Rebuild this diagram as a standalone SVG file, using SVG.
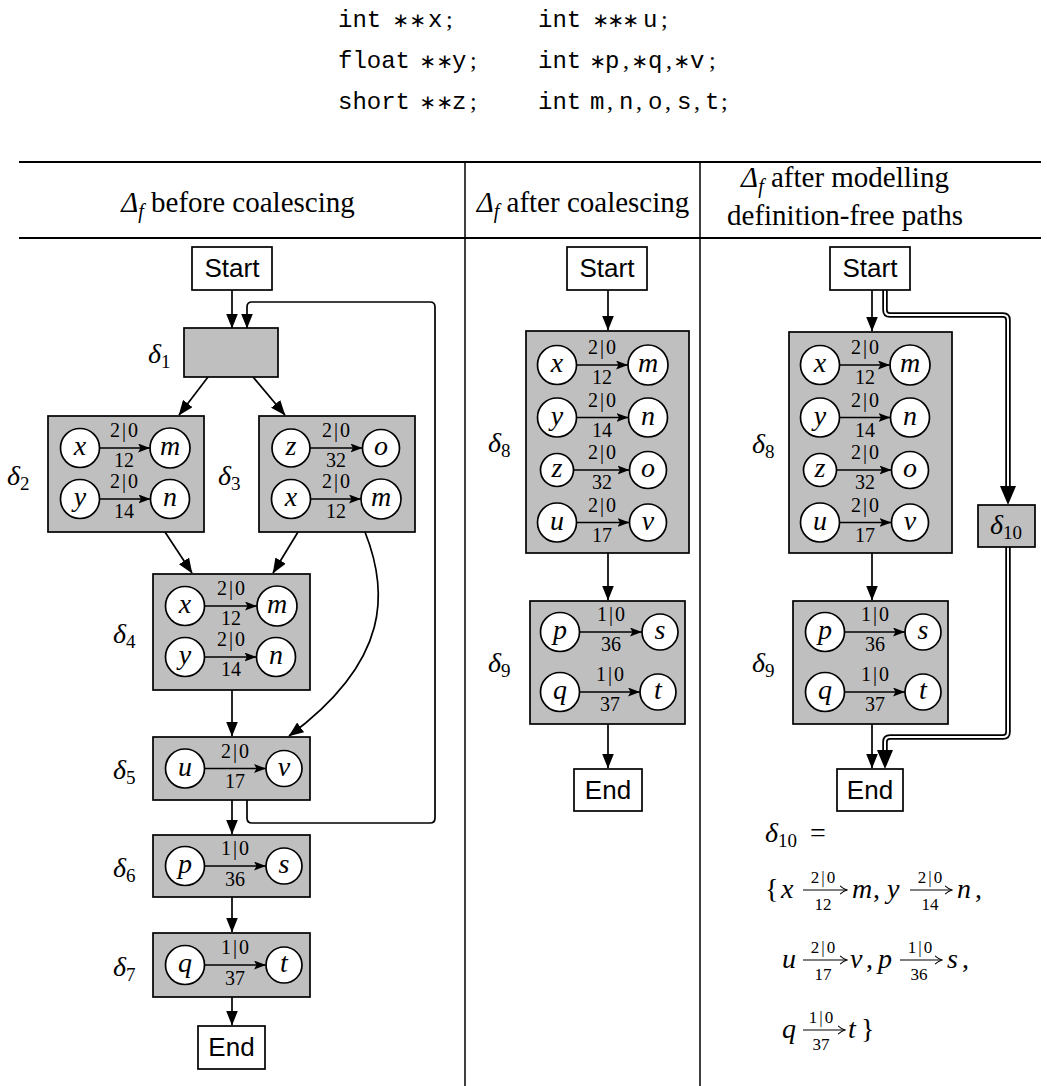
<svg xmlns="http://www.w3.org/2000/svg" width="1047" height="1086" viewBox="0 0 1047 1086">
<defs>
<style>
.box{fill:#bfbfbf;stroke:#000;stroke-width:1.7}
.wb{fill:#fff;stroke:#000;stroke-width:1.7}
.c{fill:#fff;stroke:#000;stroke-width:1.7}
.e{fill:none;stroke:#000;stroke-width:1.7;marker-end:url(#ah)}
.ie{fill:none;stroke:#000;stroke-width:1.5;marker-end:url(#ih)}
.me{fill:none;stroke:#000;stroke-width:1.1;marker-end:url(#mh)}
.dbo{fill:none;stroke:#000;stroke-width:5.5;stroke-linejoin:round}
.dbi{fill:none;stroke:#fff;stroke-width:2;stroke-linejoin:round}
.rule{stroke:#000;stroke-width:2.2}
.vr{stroke:#000;stroke-width:1.5}
.v{font-family:"Liberation Serif",serif;font-style:italic;font-size:28px;text-anchor:middle}
.l{font-family:"Liberation Serif",serif;font-size:20px;text-anchor:middle}
.bar{letter-spacing:2px}
.sl{font-family:"Liberation Serif",serif;font-size:17px;text-anchor:middle}
.sf{font-family:"Liberation Sans",sans-serif;font-size:26px;text-anchor:middle}
.h{font-family:"Liberation Serif",serif;font-size:29px;text-anchor:middle}
.d{font-family:"Liberation Serif",serif;font-size:28px}
.dm{font-family:"Liberation Serif",serif;font-size:28px;text-anchor:middle}
.it{font-style:italic}
.code{font-family:"Liberation Mono",monospace;font-size:24px}
.cs{font-family:"Liberation Serif",serif;font-size:24px}
.ast{font-family:"DejaVu Sans",sans-serif;font-size:20px}
.mi{font-family:"Liberation Serif",serif;font-size:28px;font-style:italic}
.mr{font-family:"Liberation Serif",serif;font-size:28px}
</style>
<marker id="ah" markerUnits="userSpaceOnUse" viewBox="0 0 15 12" markerWidth="15" markerHeight="12" refX="14.5" refY="6" orient="auto"><path d="M0,0 L15,6 L0,12 z"/></marker>
<marker id="ih" markerUnits="userSpaceOnUse" viewBox="0 0 12 9" markerWidth="12" markerHeight="9" refX="12" refY="4.5" orient="auto"><path d="M0,0 L12,4.5 L0,9 L2.5,4.5 z"/></marker>
<marker id="mh" markerUnits="userSpaceOnUse" viewBox="0 0 8 10" markerWidth="8" markerHeight="10" refX="7.5" refY="5" orient="auto"><path d="M0.5,0.8 Q4,4 7.5,5 Q4,6 0.5,9.2" fill="none" stroke="#000" stroke-width="1.1"/></marker>
</defs>

<g id="code">
<text class="code" y="27"><tspan x="338">int</tspan><tspan class="ast" x="392.6 409.6">∗∗</tspan><tspan x="428">x</tspan><tspan class="cs" x="446">;</tspan><tspan x="538">int</tspan><tspan class="ast" x="592.6 607.6 622.6">∗∗∗</tspan><tspan x="643">u</tspan><tspan class="cs" x="661">;</tspan></text>
<text class="code" y="68"><tspan x="338">float</tspan><tspan class="ast" x="419.6 436.6">∗∗</tspan><tspan x="452">y</tspan><tspan class="cs" x="470">;</tspan><tspan x="538">int</tspan><tspan class="ast" x="589.6">∗</tspan><tspan x="605">p</tspan><tspan class="cs" x="623">,</tspan><tspan class="ast" x="631.6">∗</tspan><tspan x="648">q</tspan><tspan class="cs" x="666">,</tspan><tspan class="ast" x="673.6">∗</tspan><tspan x="690">v</tspan><tspan class="cs" x="709">;</tspan></text>
<text class="code" y="109"><tspan x="338">short</tspan><tspan class="ast" x="419.6 436.6">∗∗</tspan><tspan x="452">z</tspan><tspan class="cs" x="470">;</tspan><tspan x="538">int</tspan><tspan x="590">m</tspan><tspan class="cs" x="607">,</tspan><tspan x="619">n</tspan><tspan class="cs" x="636">,</tspan><tspan x="648">o</tspan><tspan class="cs" x="665">,</tspan><tspan x="677">s</tspan><tspan class="cs" x="694">,</tspan><tspan x="705">t</tspan><tspan class="cs" x="721">;</tspan></text>
</g>

<g id="table">
<line class="rule" x1="19" y1="162" x2="1041" y2="162"/>
<line class="rule" x1="19" y1="238" x2="1041" y2="238"/>
<line class="vr" x1="465" y1="162" x2="465" y2="1086"/>
<line class="vr" x1="700" y1="162" x2="700" y2="1086"/>
<text class="h" x="238" y="212"><tspan class="it">Δ</tspan><tspan class="it" font-size="20" dy="6">f</tspan><tspan dy="-6"> before coalescing</tspan></text>
<text class="h" x="583" y="212"><tspan class="it">Δ</tspan><tspan class="it" font-size="20" dy="6">f</tspan><tspan dy="-6"> after coalescing</tspan></text>
<text class="h" x="845" y="187"><tspan class="it">Δ</tspan><tspan class="it" font-size="20" dy="6">f</tspan><tspan dy="-6"> after modelling</tspan></text>
<text class="h" x="845" y="225">definition-free paths</text>
</g>

<g id="connectors">
<path class="e" d="M232,290 L232,328"/>
<path class="e" d="M247,800 L247,818 Q247,823 252,823 L430,823 Q435,823 435,818 L435,307 Q435,302 430,302 L252,302 Q247,302 247,307 L247,328"/>
<path class="e" d="M208,377 L179,415"/>
<path class="e" d="M253,377 L285,415"/>
<path class="e" d="M165,532 L192,573"/>
<path class="e" d="M298,532 L273,573"/>
<path class="e" d="M365,532 C388,590 392,660 289,736"/>
<path class="e" d="M232,690 L232,736"/>
<path class="e" d="M232,800 L232,834"/>
<path class="e" d="M232,897 L232,932"/>
<path class="e" d="M232,997 L232,1025"/>
<path class="e" d="M608,290 L608,330"/>
<path class="e" d="M608,553 L608,600"/>
<path class="e" d="M608,724 L608,768"/>
<path class="e" d="M872,290 L872,331"/>
<path class="e" d="M872,553 L872,600"/>
<path class="e" d="M872,724 L872,768"/>
<path class="dbo" d="M885,290 L885,310 Q885,315 890,315 L1003,315 Q1008,315 1008,320 L1008,488"/>
<path class="dbi" d="M885,290 L885,310 Q885,315 890,315 L1003,315 Q1008,315 1008,320 L1008,488"/>
<polygon points="1000,486 1016,486 1008,505"/>
<path class="dbo" d="M1008,547 L1008,732 Q1008,737 1003,737 L890,737 Q885,737 885,742 L885,752"/>
<path class="dbi" d="M1008,547 L1008,732 Q1008,737 1003,737 L890,737 Q885,737 885,742 L885,752"/>
<polygon points="877,750 893,750 885,769"/>
</g>

<g id="start-left"><rect class="wb" x="192" y="247" width="80" height="43"/><text class="sf" x="232" y="277">Start</text></g>
<g id="delta1"><rect class="box" x="184" y="328" width="94" height="49"/><text class="d" x="148" y="363"><tspan class="it">δ</tspan><tspan font-size="19" dy="5">1</tspan></text></g>

<g id="delta2">
<rect class="box" x="48" y="416" width="156" height="116"/>
<text class="d" x="7" y="485"><tspan class="it">δ</tspan><tspan font-size="19" dy="5">2</tspan></text>
<circle class="c" cx="80" cy="448" r="19.5"/><text class="v" x="80" y="455">x</text>
<circle class="c" cx="170" cy="448" r="20"/><text class="v" x="170" y="455">m</text>
<path class="ie" d="M99.5,448 L150,448"/><text class="l bar" x="125" y="437">2|0</text><text class="l" x="124" y="467">12</text>
<circle class="c" cx="80" cy="499" r="19.5"/><text class="v" x="80" y="506">y</text>
<circle class="c" cx="170" cy="499" r="19.5"/><text class="v" x="170" y="506">n</text>
<path class="ie" d="M99.5,499 L150.5,499"/><text class="l bar" x="125" y="488">2|0</text><text class="l" x="124" y="518">14</text>
</g>

<g id="delta3">
<rect class="box" x="259" y="416" width="156" height="116"/>
<text class="d" x="218" y="485"><tspan class="it">δ</tspan><tspan font-size="19" dy="5">3</tspan></text>
<circle class="c" cx="291" cy="448" r="19"/><text class="v" x="291" y="455">z</text>
<circle class="c" cx="381" cy="448" r="18.5"/><text class="v" x="381" y="455">o</text>
<path class="ie" d="M310,448 L362.5,448"/><text class="l bar" x="337" y="437">2|0</text><text class="l" x="336" y="467">32</text>
<circle class="c" cx="291" cy="499" r="19.5"/><text class="v" x="291" y="506">x</text>
<circle class="c" cx="381" cy="499" r="20"/><text class="v" x="381" y="506">m</text>
<path class="ie" d="M310.5,499 L361,499"/><text class="l bar" x="337" y="488">2|0</text><text class="l" x="336" y="518">12</text>
</g>

<g id="delta4">
<rect class="box" x="153" y="574" width="157" height="116"/>
<text class="d" x="113" y="643"><tspan class="it">δ</tspan><tspan font-size="19" dy="5">4</tspan></text>
<circle class="c" cx="185" cy="606" r="19.5"/><text class="v" x="185" y="613">x</text>
<circle class="c" cx="277" cy="606" r="20"/><text class="v" x="277" y="613">m</text>
<path class="ie" d="M204.5,606 L257,606"/><text class="l bar" x="232" y="595">2|0</text><text class="l" x="231" y="625">12</text>
<circle class="c" cx="185" cy="657" r="19.5"/><text class="v" x="185" y="664">y</text>
<circle class="c" cx="276" cy="657" r="19.5"/><text class="v" x="276" y="664">n</text>
<path class="ie" d="M204.5,657 L256.5,657"/><text class="l bar" x="232" y="646">2|0</text><text class="l" x="231" y="676">14</text>
</g>

<g id="delta5">
<rect class="box" x="153" y="737" width="157" height="63"/>
<text class="d" x="113" y="779"><tspan class="it">δ</tspan><tspan font-size="19" dy="5">5</tspan></text>
<circle class="c" cx="185" cy="768.5" r="19.5"/><text class="v" x="185" y="775.5">u</text>
<circle class="c" cx="284" cy="768.5" r="18"/><text class="v" x="284" y="775.5">v</text>
<path class="ie" d="M204.5,768.5 L266,768.5"/><text class="l bar" x="236" y="757.5">2|0</text><text class="l" x="235" y="788">17</text>
</g>

<g id="delta6">
<rect class="box" x="153" y="835" width="157" height="62"/>
<text class="d" x="113" y="877"><tspan class="it">δ</tspan><tspan font-size="19" dy="5">6</tspan></text>
<circle class="c" cx="185" cy="866" r="19.5"/><text class="v" x="185" y="873">p</text>
<circle class="c" cx="284" cy="866" r="18"/><text class="v" x="284" y="873">s</text>
<path class="ie" d="M204.5,866 L266,866"/><text class="l bar" x="236" y="855">1|0</text><text class="l" x="235" y="886">36</text>
</g>

<g id="delta7">
<rect class="box" x="153" y="933" width="157" height="64"/>
<text class="d" x="113" y="976"><tspan class="it">δ</tspan><tspan font-size="19" dy="5">7</tspan></text>
<circle class="c" cx="185" cy="965" r="19.5"/><text class="v" x="185" y="972">q</text>
<circle class="c" cx="284" cy="965" r="18"/><text class="v" x="284" y="972">t</text>
<path class="ie" d="M204.5,965 L266,965"/><text class="l bar" x="236" y="954">1|0</text><text class="l" x="235" y="985">37</text>
</g>

<g id="end-left"><rect class="wb" x="198" y="1026" width="67" height="43"/><text class="sf" x="231.5" y="1056">End</text></g>

<g id="start-mid"><rect class="wb" x="567" y="247" width="80" height="43"/><text class="sf" x="607" y="277">Start</text></g>

<g id="delta8-mid">
<rect class="box" x="526" y="331" width="163" height="222"/>
<text class="d" x="488" y="452"><tspan class="it">δ</tspan><tspan font-size="19" dy="5">8</tspan></text>
<circle class="c" cx="557" cy="365" r="19.5"/><text class="v" x="557" y="372">x</text>
<circle class="c" cx="648" cy="365" r="20"/><text class="v" x="648" y="372">m</text>
<path class="ie" d="M576.5,365 L628,365"/><text class="l bar" x="603" y="354">2|0</text><text class="l" x="602" y="384">12</text>
<circle class="c" cx="557" cy="417.5" r="19.5"/><text class="v" x="557" y="424.5">y</text>
<circle class="c" cx="648" cy="417.5" r="19.5"/><text class="v" x="648" y="424.5">n</text>
<path class="ie" d="M576.5,417.5 L628.5,417.5"/><text class="l bar" x="603" y="406.5">2|0</text><text class="l" x="602" y="436.5">14</text>
<circle class="c" cx="557" cy="470" r="16.5"/><text class="v" x="557" y="477">z</text>
<circle class="c" cx="648" cy="470" r="18.5"/><text class="v" x="648" y="477">o</text>
<path class="ie" d="M573.5,470 L629.5,470"/><text class="l bar" x="603" y="459">2|0</text><text class="l" x="602" y="489">32</text>
<circle class="c" cx="557" cy="522.5" r="19.5"/><text class="v" x="557" y="529.5">u</text>
<circle class="c" cx="648" cy="522.5" r="18.5"/><text class="v" x="648" y="529.5">v</text>
<path class="ie" d="M576.5,522.5 L629.5,522.5"/><text class="l bar" x="603" y="511.5">2|0</text><text class="l" x="602" y="541.5">17</text>
</g>

<g id="delta9-mid">
<rect class="box" x="530" y="601" width="155" height="123"/>
<text class="d" x="488" y="672"><tspan class="it">δ</tspan><tspan font-size="19" dy="5">9</tspan></text>
<circle class="c" cx="560" cy="632" r="19.5"/><text class="v" x="560" y="639">p</text>
<circle class="c" cx="660" cy="632" r="18"/><text class="v" x="660" y="639">s</text>
<path class="ie" d="M579.5,632 L642,632"/><text class="l bar" x="612" y="621">1|0</text><text class="l" x="611" y="651">36</text>
<circle class="c" cx="560" cy="692" r="19.5"/><text class="v" x="560" y="699">q</text>
<circle class="c" cx="658" cy="692" r="18"/><text class="v" x="658" y="699">t</text>
<path class="ie" d="M579.5,692 L640,692"/><text class="l bar" x="611" y="681">1|0</text><text class="l" x="610" y="711">37</text>
</g>

<g id="end-mid"><rect class="wb" x="574" y="769" width="68" height="42"/><text class="sf" x="608" y="799">End</text></g>

<g id="start-right"><rect class="wb" x="830" y="247" width="80" height="43"/><text class="sf" x="870" y="277">Start</text></g>

<g id="delta8-right">
<rect class="box" x="789" y="332" width="163" height="221"/>
<text class="d" x="752" y="453"><tspan class="it">δ</tspan><tspan font-size="19" dy="5">8</tspan></text>
<circle class="c" cx="820" cy="365" r="19.5"/><text class="v" x="820" y="372">x</text>
<circle class="c" cx="910" cy="365" r="20"/><text class="v" x="910" y="372">m</text>
<path class="ie" d="M839.5,365 L890,365"/><text class="l bar" x="866" y="354">2|0</text><text class="l" x="865" y="384">12</text>
<circle class="c" cx="820" cy="417.5" r="19.5"/><text class="v" x="820" y="424.5">y</text>
<circle class="c" cx="910" cy="417.5" r="19.5"/><text class="v" x="910" y="424.5">n</text>
<path class="ie" d="M839.5,417.5 L890.5,417.5"/><text class="l bar" x="866" y="406.5">2|0</text><text class="l" x="865" y="436.5">14</text>
<circle class="c" cx="820" cy="470" r="16.5"/><text class="v" x="820" y="477">z</text>
<circle class="c" cx="910" cy="470" r="18.5"/><text class="v" x="910" y="477">o</text>
<path class="ie" d="M836.5,470 L891.5,470"/><text class="l bar" x="866" y="459">2|0</text><text class="l" x="865" y="489">32</text>
<circle class="c" cx="820" cy="522.5" r="19.5"/><text class="v" x="820" y="529.5">u</text>
<circle class="c" cx="910" cy="522.5" r="18.5"/><text class="v" x="910" y="529.5">v</text>
<path class="ie" d="M839.5,522.5 L891.5,522.5"/><text class="l bar" x="866" y="511.5">2|0</text><text class="l" x="865" y="541.5">17</text>
</g>

<g id="delta9-right">
<rect class="box" x="793" y="601" width="155" height="123"/>
<text class="d" x="752" y="672"><tspan class="it">δ</tspan><tspan font-size="19" dy="5">9</tspan></text>
<circle class="c" cx="825" cy="632" r="19.5"/><text class="v" x="825" y="639">p</text>
<circle class="c" cx="923" cy="632" r="18"/><text class="v" x="923" y="639">s</text>
<path class="ie" d="M844.5,632 L905,632"/><text class="l bar" x="876" y="621">1|0</text><text class="l" x="875" y="651">36</text>
<circle class="c" cx="825" cy="692" r="19.5"/><text class="v" x="825" y="699">q</text>
<circle class="c" cx="923" cy="692" r="18"/><text class="v" x="923" y="699">t</text>
<path class="ie" d="M844.5,692 L905,692"/><text class="l bar" x="876" y="681">1|0</text><text class="l" x="875" y="711">37</text>
</g>

<g id="delta10"><rect class="box" x="978" y="505" width="57" height="42"/><text class="dm" x="1006" y="534"><tspan class="it">δ</tspan><tspan font-size="19" dy="5">10</tspan></text></g>

<g id="end-right"><rect class="wb" x="837" y="769" width="66" height="42"/><text class="sf" x="870" y="799">End</text></g>

<g id="formula">
<text class="mr" x="765" y="842"><tspan class="it">δ</tspan><tspan font-size="19" dy="5">10</tspan><tspan x="810" dy="-5">=</tspan></text>
<text class="mr" x="765" y="898">{</text>
<text class="mi" x="781" y="898">x</text>
<path class="me" d="M803,890 L847,890"/><text class="sl bar" x="824" y="883">2|0</text><text class="sl" x="823" y="910">12</text>
<text class="mi" x="852" y="898">m</text><text class="mr" x="873" y="898">,</text>
<text class="mi" x="887" y="898">y</text>
<path class="me" d="M910,890 L952,890"/><text class="sl bar" x="931" y="883">2|0</text><text class="sl" x="930" y="910">14</text>
<text class="mi" x="957" y="898">n</text><text class="mr" x="975" y="898">,</text>
<text class="mi" x="782" y="968">u</text>
<path class="me" d="M803,960 L847,960"/><text class="sl bar" x="824" y="953">2|0</text><text class="sl" x="823" y="980">17</text>
<text class="mi" x="850" y="968">v</text><text class="mr" x="866" y="968">,</text>
<text class="mi" x="878" y="968">p</text>
<path class="me" d="M900,960 L942,960"/><text class="sl bar" x="921" y="953">1|0</text><text class="sl" x="919" y="980">36</text>
<text class="mi" x="947" y="968">s</text><text class="mr" x="962" y="968">,</text>
<text class="mi" x="782" y="1038">q</text>
<path class="me" d="M803,1030 L845,1030"/><text class="sl bar" x="822" y="1023">1|0</text><text class="sl" x="821" y="1050">37</text>
<text class="mi" x="848" y="1038">t</text><text class="mr" x="861" y="1038">}</text>
</g>
</svg>
